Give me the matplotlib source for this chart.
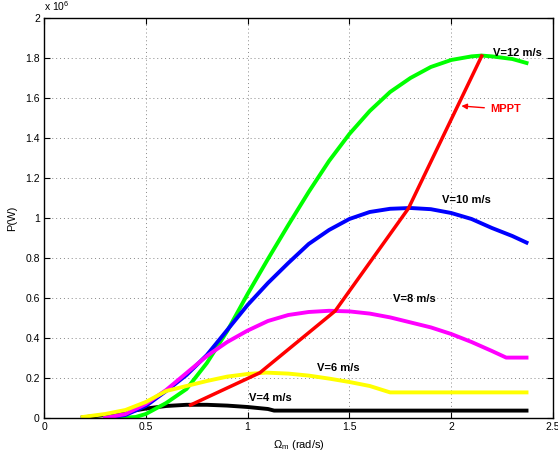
import numpy as np
import matplotlib
matplotlib.use('Agg')
import matplotlib.pyplot as plt

#- Rotor speed (rad/s) and power (x 1e6 W)
w_4 = [0.19, 0.30, 0.40, 0.50, 0.60, 0.70, 0.80, 0.90, 1.00, 1.10, 1.13, 2.37]
p_4 = [0.003, 0.015, 0.030, 0.047, 0.060, 0.066, 0.066, 0.062, 0.055, 0.045, 0.037, 0.037]

w_6 = [0.19, 0.30, 0.40, 0.50, 0.60, 0.70, 0.80, 0.90, 1.00, 1.09, 1.20,
       1.30, 1.40, 1.50, 1.60, 1.70, 2.37]
p_6 = [0.005, 0.020, 0.040, 0.080, 0.135, 0.160, 0.185, 0.207, 0.220, 0.227, 0.222,
       0.212, 0.197, 0.180, 0.160, 0.128, 0.128]

w_8 = [0.30, 0.40, 0.50, 0.60, 0.70, 0.80, 0.90, 1.00, 1.10, 1.20, 1.30, 1.40,
       1.50, 1.60, 1.70, 1.80, 1.90, 2.00, 2.10, 2.20, 2.27, 2.37]
p_8 = [0.0, 0.020, 0.070, 0.140, 0.225, 0.310, 0.380, 0.437, 0.485, 0.515, 0.530, 0.536,
       0.533, 0.522, 0.503, 0.478, 0.453, 0.420, 0.380, 0.335, 0.302, 0.302]

w_10 = [0.30, 0.40, 0.50, 0.60, 0.70, 0.80, 0.90, 1.00, 1.10, 1.20, 1.30, 1.40,
        1.50, 1.60, 1.70, 1.80, 1.90, 2.00, 2.10, 2.20, 2.30, 2.37]
p_10 = [0.0, 0.015, 0.060, 0.135, 0.215, 0.315, 0.440, 0.565, 0.675, 0.775, 0.870, 0.940,
        0.995, 1.030, 1.046, 1.050, 1.044, 1.025, 0.995, 0.950, 0.910, 0.877]

w_12 = [0.37, 0.45, 0.50, 0.60, 0.70, 0.80, 0.90, 1.00, 1.10, 1.20, 1.30, 1.40,
        1.50, 1.60, 1.70, 1.80, 1.90, 2.00, 2.10, 2.15, 2.20, 2.30, 2.37]
p_12 = [0.0, 0.005, 0.020, 0.075, 0.145, 0.275, 0.435, 0.620, 0.795, 0.965, 1.130, 1.285,
        1.420, 1.535, 1.630, 1.700, 1.755, 1.790, 1.808, 1.812, 1.808, 1.795, 1.775]

#- MPPT line through the curve maxima
w_mppt = [0.72, 1.06, 1.43, 1.79, 2.15]
p_mppt = [0.065, 0.226, 0.535, 1.048, 1.810]

labels = ['V=4 m/s', 'V=6 m/s', 'V=8 m/s', 'V=10 m/s', 'V=12 m/s']
label_pos = [(1.007, 0.098), (1.339, 0.248), (1.713, 0.593), (1.953, 1.09), (2.205, 1.827)]

plt.rcParams['font.family'] = ['Liberation Sans', 'DejaVu Sans']
plt.rcParams['mathtext.fontset'] = 'custom'
plt.rcParams['mathtext.rm'] = 'Liberation Sans'
plt.rcParams['mathtext.it'] = 'Liberation Sans:italic'

fig = plt.figure(figsize=(5.58, 4.54), dpi=100)
ax = fig.add_axes([0.0789, 0.0793, 0.9121, 0.8811])

lw = 2.8
ax.plot(w_4, p_4, color='black', lw=lw)
ax.plot(w_12, p_12, color=(0, 1, 0), lw=lw)
ax.plot(w_10, p_10, color=(0, 0, 1), lw=lw)
ax.plot(w_8, p_8, color=(1, 0, 1), lw=lw)
ax.plot(w_6, p_6, color=(1, 1, 0), lw=lw)
ax.plot(w_mppt, p_mppt, color=(1, 0, 0), lw=2.5)

for txt, (x, y) in zip(labels, label_pos):
    ax.text(x, y, txt, fontsize=8, fontweight='bold', va='center', ha='left')

ax.annotate('MPPT', xy=(2.05, 1.56), xytext=(2.19, 1.543), color='red',
            fontsize=8, fontweight='bold', va='center', ha='left',
            arrowprops=dict(arrowstyle='-|>', color='red', lw=1, mutation_scale=8,
                            shrinkA=2, shrinkB=0))

ax.set_xlim(0, 2.5)
ax.set_ylim(0, 2)
ax.set_xticks([0, 0.5, 1, 1.5, 2, 2.5])
ax.set_xticklabels(['0', '0.5', '1', '1.5', '2', '2.5'])
yt = [0, 0.2, 0.4, 0.6, 0.8, 1, 1.2, 1.4, 1.6, 1.8, 2]
ax.set_yticks(yt)
ax.set_yticklabels(['0', '0.2', '0.4', '0.6', '0.8', '1', '1.2', '1.4', '1.6', '1.8', '2'])
ax.tick_params(direction='in', top=True, right=True, labelsize=7.5, length=4, width=0.8, pad=3)
ax.grid(True, color='#888888', linestyle=(0, (1, 3)), linewidth=0.7)
for s in ax.spines.values():
    s.set_linewidth(1)

ax.text(0.0, 1.012, r'x 10$^{6}$', transform=ax.transAxes, fontsize=7.5, ha='left', va='bottom')
ax.set_ylabel('P(W)', fontsize=8, labelpad=6)
ax.set_xlabel(r'$\Omega_{\rm m}$ (rad/s)', fontsize=8, labelpad=4)

fig.savefig('out.png', dpi=100)
